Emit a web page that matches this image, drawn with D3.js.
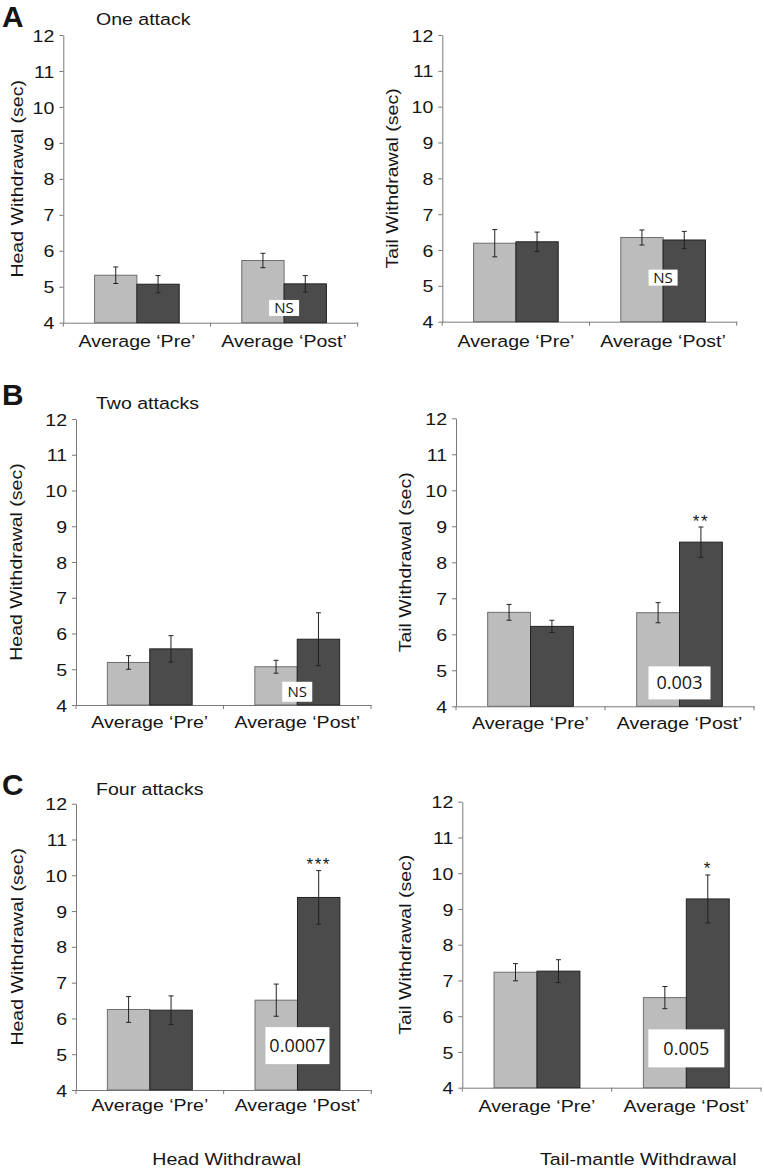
<!DOCTYPE html>
<html><head><meta charset="utf-8">
<script src="https://cdn.jsdelivr.net/npm/d3@7"></script>
<style>
body{margin:0;background:#fff}
text{font-family:"Liberation Sans",Arial,Helvetica,sans-serif;fill:#151515}
</style>
</head><body>
<svg id="chart" width="764" height="1170"></svg>
<script>
// ---------- DATA ----------
const categories = ["Average \u2018Pre\u2019", "Average \u2018Post\u2019"];
const seriesNames = ["Light", "Dark"];
const yTicks = [4, 5, 6, 7, 8, 9, 10, 11, 12];
const rowLetters = ["A", "B", "C"];
const rowTitles = ["One attack", "Two attacks", "Four attacks"];
const yAxisLabels = ["Head Withdrawal (sec)", "Tail Withdrawal (sec)"];
const columnTitles = ["Head Withdrawal", "Tail-mantle Withdrawal"];

// panel order: A-head, A-tail, B-head, B-tail, C-head, C-tail
const lightMeans = [[5.32, 5.73], [6.19, 6.35], [5.19, 5.07], [6.61, 6.60], [6.25, 6.51], [7.23, 6.52]];
const darkMeans  = [[5.07, 5.08], [6.23, 6.28], [5.57, 5.84], [6.22, 8.56], [6.23, 9.38], [7.26, 9.28]];
const lightErr   = [[0.23, 0.20], [0.38, 0.21], [0.19, 0.18], [0.22, 0.28], [0.36, 0.45], [0.24, 0.31]];
const darkErr    = [[0.24, 0.23], [0.27, 0.24], [0.37, 0.74], [0.17, 0.42], [0.40, 0.75], [0.32, 0.67]];
const annotationTexts = ["NS", "NS", "NS", "0.003", "0.0007", "0.005"];
const annotationValues = [4.41, 5.23, 4.37, 4.65, 5.24, 5.10];
const starTexts = ["", "", "", "**", "***", "*"];

// ---------- LAYOUT / STYLE ----------
const layout = [
  {x0: 63.3, x1: 357.7, yTop: 35,    yBot: 322.7, ylx: 17,  xlOff: 24.5, box: [30, 16], afs: 15},
  {x0: 442.3, x1: 736.7, yTop: 35,   yBot: 321.7, ylx: 392, xlOff: 25.5, box: [29, 16], afs: 15},
  {x0: 76,   x1: 371,   yTop: 419,   yBot: 705,   ylx: 16,  xlOff: 23.3, box: [30, 20], afs: 15},
  {x0: 456,  x1: 754,   yTop: 418.3, yBot: 706.3, ylx: 405, xlOff: 23,   box: [62, 33], afs: 18},
  {x0: 76,   x1: 371.3, yTop: 803.7, yBot: 1090,  ylx: 17,  xlOff: 21,   box: [64, 37], afs: 18},
  {x0: 462.3, x1: 761,  yTop: 801.7, yBot: 1087.7, ylx: 405, xlOff: 24,  box: [76, 38], afs: 18}
];
const rowHeader = [
  {letterY: 26.5, titleY: 25},
  {letterY: 405, titleY: 409.3},
  {letterY: 795, titleY: 795}
];
const SX = 1.15;         // horizontal stretch of the original typesetting
const FS = 17;
const colors = {light: "#bcbcbc", lightStroke: "#6e6e6e", dark: "#4b4b4b", darkStroke: "#222", axis: "#7a7a7a"};

const svg = d3.select("#chart");

function stext(sel, x, y, str, o = {}) {
  const t = sel.append("text")
    .attr("transform", `translate(${x},${y}) rotate(${o.rot || 0}) scale(${o.sx || SX},1)`)
    .attr("text-anchor", o.anchor || "start")
    .style("font-size", (o.fs || FS) + "px")
    .text(str);
  if (o.dy) t.attr("dy", o.dy);
  if (o.weight) t.style("font-weight", o.weight);
  if (o.family) t.style("font-family", o.family);
  if (o.ls) t.style("letter-spacing", o.ls + "px");
  return t;
}

// row headers
rowLetters.forEach((L, i) => {
  stext(svg, 2, rowHeader[i].letterY, L, {fs: 29, sx: 1.03, weight: "bold", family: "'Liberation Sans',Arial,sans-serif"});
  stext(svg, 96, rowHeader[i].titleY, rowTitles[i]);
});

layout.forEach((L, p) => {
  const g = svg.append("g");
  const y = d3.scaleLinear().domain([4, 12]).range([L.yBot, L.yTop]);
  const x0 = d3.scaleBand().domain(categories).range([L.x0, L.x1]).padding(0);
  const bw = x0.bandwidth();
  const gw = 0.575 * bw;
  const x1 = d3.scaleBand().domain(seriesNames).range([bw / 2 - gw / 2, bw / 2 + gw / 2]).padding(0);

  // y axis
  const yAxis = d3.axisLeft(y).tickValues(yTicks).tickSize(4).tickSizeOuter(0).tickFormat(d3.format("d"));
  const ya = g.append("g").attr("transform", `translate(${L.x0},0)`).call(yAxis);
  ya.select(".domain").attr("stroke", colors.axis);
  ya.selectAll(".tick line").attr("stroke", colors.axis);
  ya.selectAll(".tick text")
    .attr("x", 0).attr("dy", "0.36em")
    .attr("transform", `translate(-9,0) scale(${SX},1)`)
    .style("font-size", FS + "px")
    .style("font-family", "'Liberation Sans',Arial,sans-serif")
    .attr("fill", "#151515");

  // x axis
  const xa = g.append("g").attr("transform", `translate(0,${L.yBot})`).call(d3.axisBottom(x0).tickSize(0).tickSizeOuter(0).tickFormat(""));
  xa.select(".domain").attr("stroke", colors.axis);
  const bounds = categories.map(c => x0(c)).concat([x0.range()[1]]);
  g.selectAll(".xt").data(bounds).join("line")
    .attr("x1", d => d).attr("x2", d => d)
    .attr("y1", L.yBot).attr("y2", L.yBot + 4)
    .attr("stroke", colors.axis);
  categories.forEach(c => {
    stext(g, x0(c) + bw / 2, L.yBot + L.xlOff, c, {anchor: "middle"});
  });

  // bars
  const rows = categories.map((c, i) => ({
    cat: c,
    vals: [
      {s: seriesNames[0], v: lightMeans[p][i], e: lightErr[p][i], fill: colors.light, stroke: colors.lightStroke},
      {s: seriesNames[1], v: darkMeans[p][i], e: darkErr[p][i], fill: colors.dark, stroke: colors.darkStroke}
    ]
  }));
  const grp = g.selectAll(".grp").data(rows).join("g").attr("transform", d => `translate(${x0(d.cat)},0)`);
  grp.selectAll("rect").data(d => d.vals).join("rect")
    .attr("x", d => x1(d.s)).attr("width", x1.bandwidth())
    .attr("y", d => y(d.v)).attr("height", d => y(4) - y(d.v))
    .attr("fill", d => d.fill).attr("stroke", d => d.stroke).attr("stroke-width", 1);
  const eb = grp.selectAll(".eb").data(d => d.vals).join("g").attr("class", "eb")
    .attr("transform", d => `translate(${x1(d.s) + x1.bandwidth() / 2},0)`);
  eb.append("line").attr("y1", d => y(d.v + d.e)).attr("y2", d => y(d.v - d.e)).attr("stroke", "#222");
  eb.append("line").attr("x1", -2.5).attr("x2", 2.5).attr("y1", d => y(d.v + d.e)).attr("y2", d => y(d.v + d.e)).attr("stroke", "#222");
  eb.append("line").attr("x1", -2.5).attr("x2", 2.5).attr("y1", d => y(d.v - d.e)).attr("y2", d => y(d.v - d.e)).attr("stroke", "#222");

  // stars
  if (starTexts[p]) {
    const post = categories[1];
    const cx = x0(post) + x1(seriesNames[1]) + x1.bandwidth() / 2;
    stext(g, cx, y(darkMeans[p][1] + darkErr[p][1]) - 0.5, starTexts[p], {anchor: "middle", fs: 17, ls: 1.5, sx: 1});
  }

  // annotation box
  const ax = x0(categories[1]) + x1(seriesNames[1]);
  const ay = y(annotationValues[p]);
  g.append("rect").attr("x", ax - L.box[0] / 2).attr("y", ay - L.box[1] / 2)
    .attr("width", L.box[0]).attr("height", L.box[1]).attr("fill", "#fff");
  g.append("text").attr("x", ax).attr("y", ay).attr("dy", "0.36em")
    .attr("text-anchor", "middle")
    .style("font-family", "'Open Sans','Noto Sans',sans-serif")
    .style("font-size", L.afs + "px")
    .text(annotationTexts[p]);

  // y label
  stext(g, L.ylx, (L.yTop + L.yBot) / 2, yAxisLabels[p % 2], {rot: -90, anchor: "middle", dy: "0.36em"});
});

// column titles
stext(svg, 226.7, 1165, columnTitles[0], {anchor: "middle"});
stext(svg, 638.3, 1165, columnTitles[1], {anchor: "middle"});
</script>
</body></html>
